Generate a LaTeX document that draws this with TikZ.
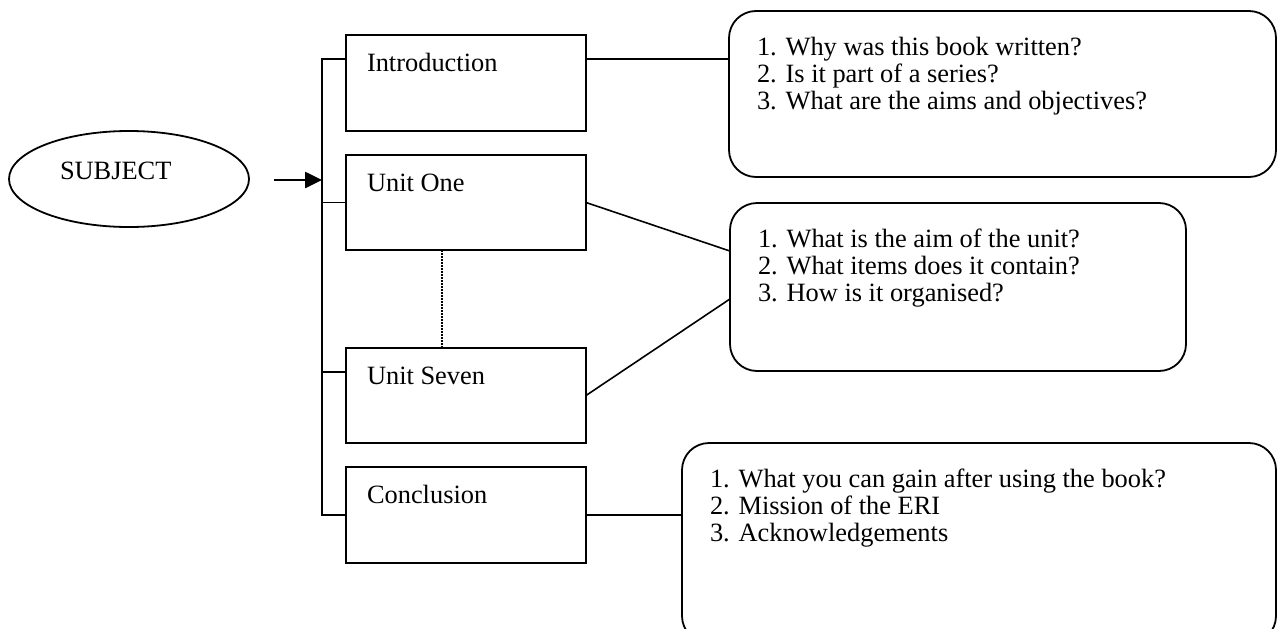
\documentclass[tikz,border=0pt]{standalone}
\usepackage{fontspec}
\setmainfont{Liberation Serif}
\usetikzlibrary{arrows.meta,calc,shapes.geometric}
\begin{document}
\begin{tikzpicture}[x=1pt,y=-1pt,
  lw/.style={line width=1.8pt},
  unitbox/.style={draw,lw,minimum width=240pt,anchor=north west,inner sep=0pt,outer sep=0pt},
  qbox/.style={draw,lw,rounded corners=27pt,anchor=north west,inner sep=0pt,outer sep=0pt},
  txt/.style={anchor=base west,inner sep=0pt,outer sep=0pt,font=\fontsize{26.4}{28}\selectfont},
  link/.style={line width=1.6pt},
  dotline/.style={line width=1.5pt,dash pattern=on 1.5pt off 1.5pt},
  headarrow/.style={line width=2.6pt,-{Triangle[length=17pt,width=16pt]}},
]
\useasboundingbox (0,0) rectangle (1277,629);
\clip (0,0) rectangle (1277,629);

% subject ellipse
\node[draw,lw,ellipse,minimum width=240pt,minimum height=96pt,inner sep=0pt] (subj) at (129,179) {};
\node[txt] (subjlbl) at (60,179) {SUBJECT};

% book parts
\node[unitbox,minimum height=96pt] (intro) at (346,35) {};
\node[unitbox,minimum height=95pt] (one) at (346,155) {};
\node[unitbox,minimum height=95pt] (seven) at (346,348) {};
\node[unitbox,minimum height=96pt] (concl) at (346,467) {};

\node[txt] (introlbl) at ($(intro.north west)+(21,36)$) {Introduction};
\node[txt] (onelbl) at ($(one.north west)+(21,36)$) {Unit One};
\node[txt] (sevenlbl) at ($(seven.north west)+(21,36)$) {Unit Seven};
\node[txt] (concllbl) at ($(concl.north west)+(21,36)$) {Conclusion};

% bracket joining the parts
\coordinate (spinex) at ($(intro.west)+(-24,0)$);
\draw[lw] ($(intro.north west)!0.25!(intro.south west)$) -- ++(-24,0) |- (concl.west);
\draw[lw] (one.west) -- ++(-24,0);
\draw[lw] ($(seven.north west)!0.25!(seven.south west)$) -- ++(-24,0);

% arrow from subject to bracket
\coordinate (arrowtail) at (274,180);
\draw[headarrow] (arrowtail) -- (arrowtail -| spinex);

% units in between
\draw[dotline] ($(one.south west)+(96,0)$) -- ($(seven.north west)+(96,0)$);

% question boxes
\node[qbox,minimum width=547pt,minimum height=166pt] (q1) at (729,11) {};
\node[qbox,minimum width=456pt,minimum height=168pt] (q2) at (730,203) {};
\node[qbox,minimum width=594pt,minimum height=200pt] (q3) at (682,443) {};

\node[txt] (q1a) at ($(q1.north west)+(28,44)$) {1. Why was this book written?};
\node[txt] (q1b) at ($(q1.north west)+(28,71)$) {2. Is it part of a series?};
\node[txt] (q1c) at ($(q1.north west)+(28,98)$) {3. What are the aims and objectives?};

\node[txt] (q2a) at ($(q2.north west)+(28,44)$) {1. What is the aim of the unit?};
\node[txt] (q2b) at ($(q2.north west)+(28,71)$) {2. What items does it contain?};
\node[txt] (q2c) at ($(q2.north west)+(28,98)$) {3. How is it organised?};

\node[txt] (q3a) at ($(q3.north west)+(28,44)$) {1. What you can gain after using the book?};
\node[txt] (q3b) at ($(q3.north west)+(28,71)$) {2. Mission of the ERI};
\node[txt] (q3c) at ($(q3.north west)+(28,98)$) {3. Acknowledgements};

% connectors
\draw[link] ($(intro.north east)!0.25!(intro.south east)$) coordinate (introout) -- (introout -| q1.west);
\draw[link] (one.east) -- ($(q2.north west)!0.286!(q2.south west)$);
\draw[link] (seven.east) -- ($(q2.north west)!0.571!(q2.south west)$);
\draw[link] (concl.east) -- (concl.east -| q3.west);
\end{tikzpicture}
\end{document}
